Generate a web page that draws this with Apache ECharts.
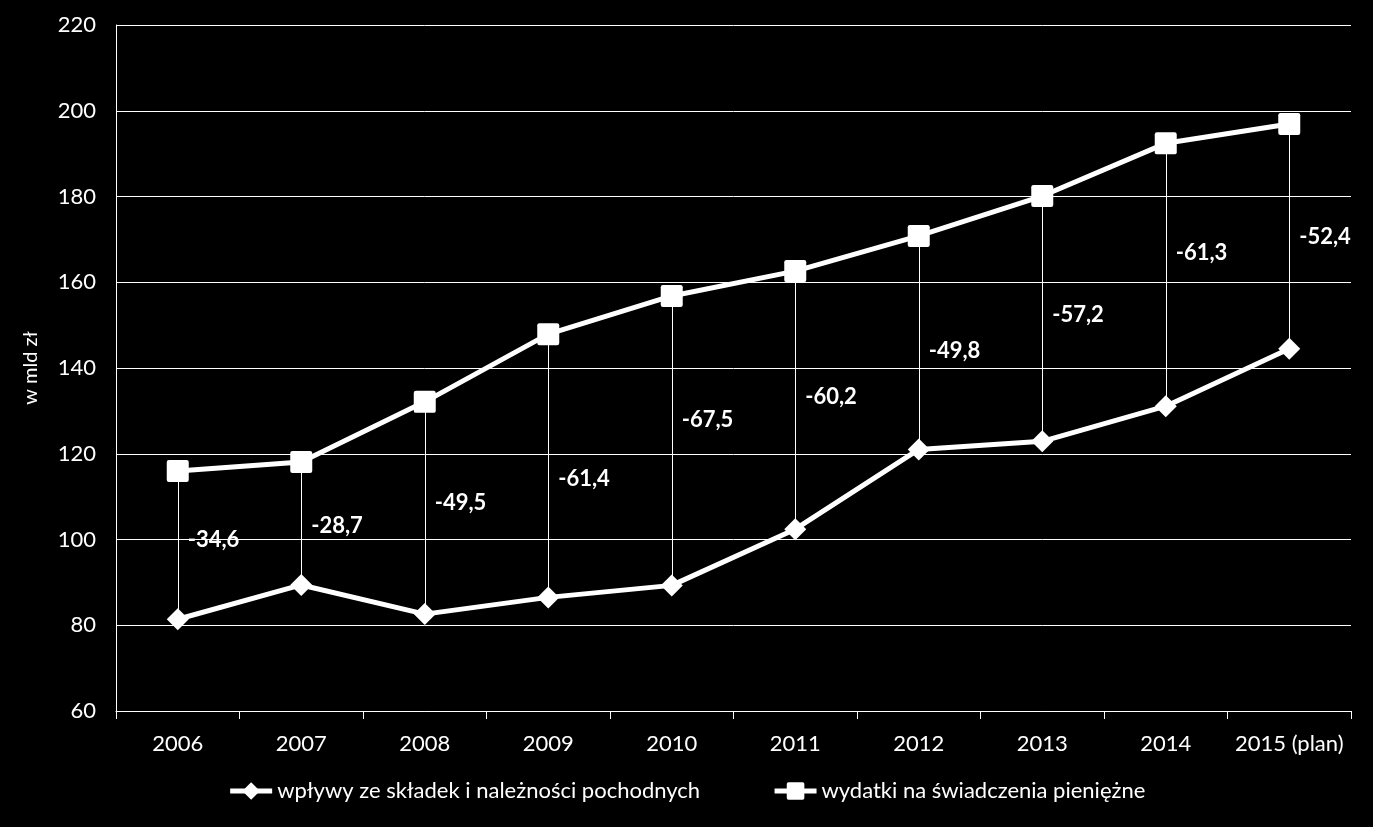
<!DOCTYPE html>
<html><head><meta charset="utf-8">
<script src="https://cdn.jsdelivr.net/npm/echarts@6/dist/echarts.min.js"></script>
<style>html,body{margin:0;padding:0;background:#000;}#c{width:1373px;height:827px;}</style>
</head><body><div id="c"></div>
<script>
const categories = ['2006','2007','2008','2009','2010','2011','2012','2013','2014','2015 (plan)'];
const wplywy = [81.4, 89.4, 82.6, 86.5, 89.3, 102.4, 121.0, 122.9, 131.1, 144.5];
const wydatki = [116.0, 118.1, 132.1, 147.9, 156.8, 162.6, 170.8, 180.1, 192.4, 196.9];
const diffLabels = ['-34,6','-28,7','-49,5','-61,4','-67,5','-60,2','-49,8','-57,2','-61,3','-52,4'];
const labelAt = [99.9, 103.1, 108.5, 114.1, 127.9, 133.2, 144.0, 152.4, 166.8, 170.6];
const yTicks = [60, 80, 100, 120, 140, 160, 180, 200, 220];
const seriesNames = ['wpływy ze składek i należności pochodnych', 'wydatki na świadczenia pieniężne'];

const font = 'Lato, "Open Sans", sans-serif';
const squarePath = 'path://M2,0 L18,0 Q20,0 20,2 L20,18 Q20,20 18,20 L2,20 Q0,20 0,18 L0,2 Q0,0 2,0 Z';
const chart = echarts.init(document.getElementById('c'), null, {renderer:'canvas'});
chart.setOption({
  backgroundColor: '#000',
  animation: false,
  textStyle: {fontFamily: font},
  grid: {left: 116, right: 22, top: 25, bottom: 116},
  legend: {
    bottom: 20, left: 'center', itemGap: 72, itemWidth: 42, itemHeight: 22,
    lineStyle: {width: 5, color: '#fff'},
    textStyle: {color: '#fff', fontSize: 22, fontFamily: font},
    data: [seriesNames[0], seriesNames[1]]
  },
  xAxis: {
    type: 'category', data: categories, boundaryGap: true,
    axisLine: {lineStyle: {color: '#fff', width: 1}},
    axisTick: {show: true, inside: false, length: 8, lineStyle: {color: '#fff'}},
    axisLabel: {color: '#fff', fontSize: 22, margin: 22, interval: 0, fontFamily: font},
    splitLine: {show: false}
  },
  yAxis: {
    type: 'value', min: yTicks[0], max: yTicks[yTicks.length-1], interval: 20,
    name: 'w mld zł', nameLocation: 'middle', nameGap: 75, nameRotate: 90,
    nameTextStyle: {color: '#fff', fontSize: 20, fontFamily: font},
    axisLine: {show: true, lineStyle: {color: '#fff', width: 1}},
    axisTick: {show: false},
    axisLabel: {color: '#fff', fontSize: 22, margin: 20, fontFamily: font},
    splitLine: {show: true, lineStyle: {color: '#fff', width: 1}}
  },
  series: [
    {
      type: 'custom', name: 'drop', silent: true, z: 1,
      data: categories.map((c, i) => [i, wplywy[i], wydatki[i]]),
      renderItem: function (params, api) {
        const p1 = api.coord([api.value(0), api.value(1)]);
        const p2 = api.coord([api.value(0), api.value(2)]);
        return {type: 'line', shape: {x1: Math.round(p1[0])+0.5, y1: p1[1], x2: Math.round(p2[0])+0.5, y2: p2[1]},
                style: {stroke: '#fff', lineWidth: 1}};
      }
    },
    {
      type: 'line', name: seriesNames[0], data: wplywy, z: 3,
      symbol: 'diamond', symbolSize: 22,
      lineStyle: {color: '#fff', width: 5}, itemStyle: {color: '#fff'}
    },
    {
      type: 'line', name: seriesNames[1], data: wydatki, z: 3,
      symbol: squarePath, symbolSize: 22,
      lineStyle: {color: '#fff', width: 5}, itemStyle: {color: '#fff'}
    },
    {
      type: 'scatter', name: 'labels', silent: true, symbolSize: 0, z: 4,
      itemStyle: {opacity: 1, color: '#fff'},
      data: labelAt.map((v, i) => ({value: [i, v], label: {formatter: diffLabels[i]}})),
      label: {show: true, position: 'right', distance: 10, color: '#fff', opacity: 1, fontSize: 22, fontWeight: 'bold', fontFamily: font}
    }
  ]
});
</script></body></html>
